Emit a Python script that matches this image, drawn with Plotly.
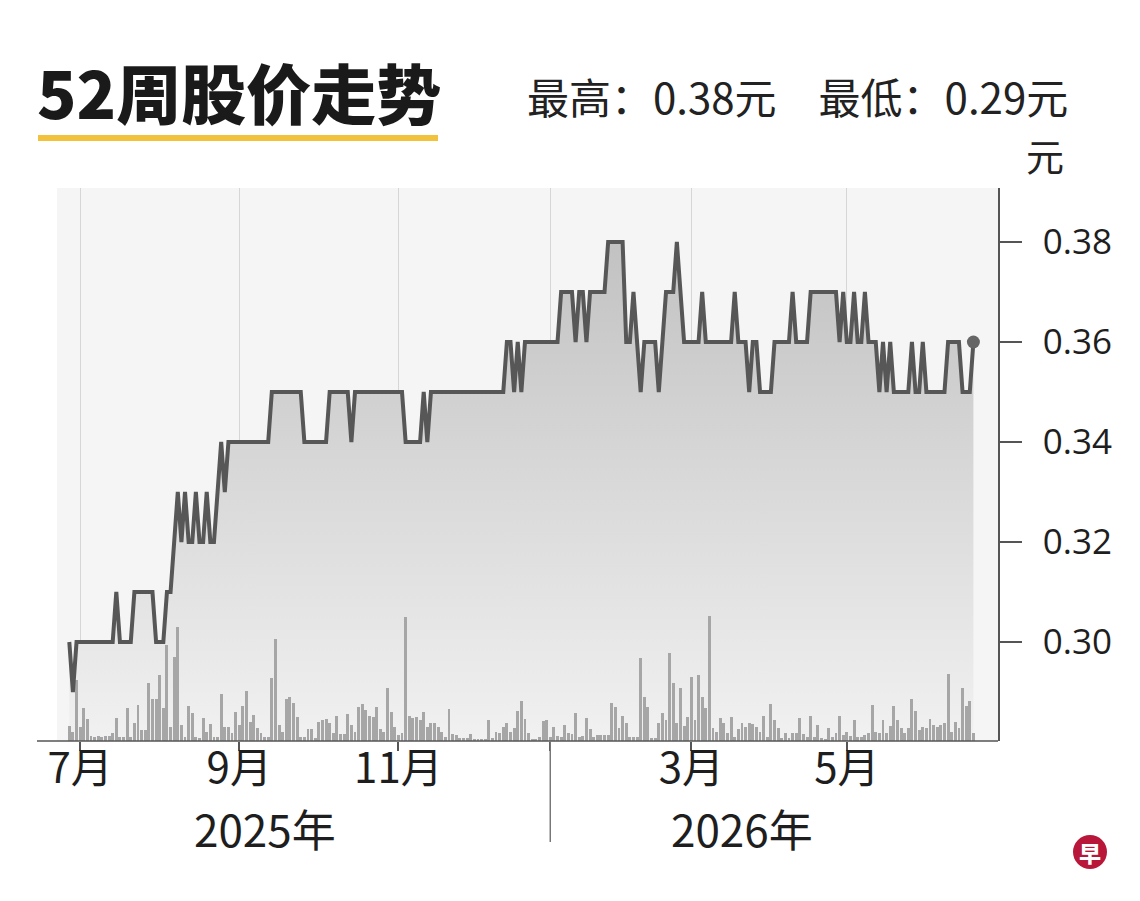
import pandas as pd
import plotly.graph_objects as go

# ---------------- data ----------------
START_DATE = "2025-06-26"
HOLIDAYS = ["2025-10-20", "2025-12-25", "2026-01-01", "2026-02-17", "2026-02-18",
            "2026-04-03", "2026-05-01", "2026-05-27", "2026-06-01"]

# daily closing price (元), one value per trading day
PRICES = [
    0.30, 0.29, 0.30, 0.30, 0.30, 0.30, 0.30, 0.30, 0.30, 0.30,
    0.30, 0.30, 0.30, 0.31, 0.30, 0.30, 0.30, 0.30, 0.31, 0.31,
    0.31, 0.31, 0.31, 0.31, 0.30, 0.30, 0.30, 0.31, 0.31, 0.32,
    0.33, 0.32, 0.33, 0.32, 0.32, 0.33, 0.32, 0.32, 0.33, 0.32,
    0.32, 0.33, 0.34, 0.33, 0.34, 0.34, 0.34, 0.34, 0.34, 0.34,
    0.34, 0.34, 0.34, 0.34, 0.34, 0.34, 0.35, 0.35, 0.35, 0.35,
    0.35, 0.35, 0.35, 0.35, 0.35, 0.34, 0.34, 0.34, 0.34, 0.34,
    0.34, 0.34, 0.35, 0.35, 0.35, 0.35, 0.35, 0.35, 0.34, 0.35,
    0.35, 0.35, 0.35, 0.35, 0.35, 0.35, 0.35, 0.35, 0.35, 0.35,
    0.35, 0.35, 0.35, 0.34, 0.34, 0.34, 0.34, 0.34, 0.35, 0.34,
    0.35, 0.35, 0.35, 0.35, 0.35, 0.35, 0.35, 0.35, 0.35, 0.35,
    0.35, 0.35, 0.35, 0.35, 0.35, 0.35, 0.35, 0.35, 0.35, 0.35,
    0.35, 0.36, 0.36, 0.35, 0.36, 0.35, 0.36, 0.36, 0.36, 0.36,
    0.36, 0.36, 0.36, 0.36, 0.36, 0.36, 0.37, 0.37, 0.37, 0.37,
    0.36, 0.37, 0.37, 0.36, 0.37, 0.37, 0.37, 0.37, 0.37, 0.38,
    0.38, 0.38, 0.38, 0.38, 0.36, 0.36, 0.37, 0.36, 0.35, 0.36,
    0.36, 0.36, 0.36, 0.35, 0.36, 0.37, 0.37, 0.37, 0.38, 0.37,
    0.36, 0.36, 0.36, 0.36, 0.36, 0.37, 0.36, 0.36, 0.36, 0.36,
    0.36, 0.36, 0.36, 0.36, 0.37, 0.36, 0.36, 0.36, 0.35, 0.36,
    0.36, 0.35, 0.35, 0.35, 0.35, 0.36, 0.36, 0.36, 0.36, 0.36,
    0.37, 0.36, 0.36, 0.36, 0.36, 0.37, 0.37, 0.37, 0.37, 0.37,
    0.37, 0.37, 0.37, 0.36, 0.37, 0.36, 0.36, 0.37, 0.36, 0.36,
    0.37, 0.36, 0.36, 0.36, 0.35, 0.36, 0.35, 0.36, 0.35, 0.35,
    0.35, 0.35, 0.35, 0.36, 0.35, 0.35, 0.36, 0.35, 0.35, 0.35,
    0.35, 0.35, 0.35, 0.36, 0.36, 0.36, 0.36, 0.35, 0.35, 0.35,
    0.36,
]

# daily trading volume (relative units, as drawn)
VOLUME = [
    15, 9, 61, 14, 33, 22, 5, 4, 5, 4,
    5, 5, 8, 23, 4, 4, 33, 4, 18, 36,
    11, 11, 58, 42, 42, 66, 33, 96, 14, 84,
    114, 16, 4, 35, 28, 4, 3, 23, 9, 17,
    4, 4, 47, 14, 14, 8, 29, 16, 35, 50,
    19, 26, 13, 8, 4, 4, 63, 102, 16, 9,
    42, 44, 38, 24, 4, 4, 12, 12, 3, 19,
    21, 22, 18, 8, 25, 7, 7, 27, 16, 9,
    34, 37, 31, 25, 24, 34, 12, 9, 53, 29,
    14, 6, 8, 124, 25, 23, 24, 21, 29, 14,
    18, 18, 14, 9, 4, 32, 7, 6, 3, 3,
    3, 7, 2, 2, 2, 2, 21, 3, 9, 8,
    14, 18, 9, 13, 30, 40, 22, 8, 2, 2,
    4, 20, 21, 4, 14, 5, 4, 16, 8, 7,
    28, 4, 5, 23, 12, 4, 6, 6, 6, 6,
    38, 34, 13, 25, 18, 4, 4, 4, 83, 44,
    34, 3, 3, 18, 28, 21, 88, 58, 18, 53,
    15, 24, 64, 21, 66, 44, 33, 125, 13, 9,
    23, 18, 8, 24, 4, 12, 18, 14, 18, 17,
    14, 9, 25, 4, 37, 21, 13, 3, 8, 3,
    8, 8, 23, 7, 4, 25, 4, 16, 3, 2,
    13, 4, 8, 25, 6, 9, 5, 21, 4, 4,
    6, 8, 36, 9, 8, 21, 8, 15, 35, 21,
    13, 8, 13, 42, 30, 11, 14, 13, 22, 16,
    14, 16, 18, 67, 9, 19, 13, 53, 35, 40,
    8,
]

TICK_DATES = ["2025-07-01", "2025-09-01", "2025-11-03", "2026-01-02", "2026-03-02", "2026-05-04"]
TICK_TEXT = ["7月", "9月", "11月", "", "3月", "5月"]
YEAR_LABELS = ["2025年", "2026年"]
Y_TICKS = [0.30, 0.32, 0.34, 0.36, 0.38]
TITLE = "52周股价走势"
UNIT = "元"

# trading-day calendar (categories)
DATES = [d.strftime("%Y-%m-%d") for d in
         pd.bdate_range(start=START_DATE, periods=len(PRICES), freq="C", holidays=HOLIDAYS)]

# ---------------- figure ----------------
CJK = "Noto Sans CJK SC"
INK = "#1e1e1e"
Y_RANGE = [0.2802, 0.3908]

# the page body has an 8px margin: the figure is drawn 8px smaller
OFF = 8
FIG_W, FIG_H = 1140 - OFF, 901 - OFF

fig = go.Figure()

# gradient area under price
fig.add_trace(go.Scatter(
    x=DATES, y=PRICES, mode="none", fill="tozeroy",
    fillgradient=dict(type="vertical",
                      colorscale=[[0, "#f1f1f1"], [1, "#c2c2c2"]],
                      start=Y_RANGE[0], stop=0.38),
    yaxis="y", hoverinfo="skip", showlegend=False))

# volume bars
fig.add_trace(go.Bar(
    x=DATES, y=VOLUME, yaxis="y2", marker=dict(color="#a6a6a6", line=dict(width=0)),
    width=0.8, showlegend=False, hoverinfo="skip"))

# price line
fig.add_trace(go.Scatter(
    x=DATES, y=PRICES, mode="lines", yaxis="y3",
    line=dict(color="#575757", width=4), showlegend=False))

# last-price dot
fig.add_trace(go.Scatter(
    x=[DATES[-1]], y=[PRICES[-1]], mode="markers", yaxis="y3",
    marker=dict(color="#666666", size=13), showlegend=False))

# plot area in page pixels
PLOT_T, PLOT_B = 188, 741
PLOT_H = PLOT_B - PLOT_T
PLOT_L, PLOT_R = 57, 998
PLOT_W = PLOT_R - PLOT_L


def px(xp):
    return (xp - PLOT_L) / PLOT_W


def py(yp):
    return (PLOT_B - yp) / PLOT_H


fig.update_layout(
    width=FIG_W, height=FIG_H,
    margin=dict(l=PLOT_L - OFF, r=1140 - PLOT_R, t=PLOT_T - OFF, b=901 - PLOT_B, autoexpand=False),
    paper_bgcolor="white", plot_bgcolor="#f5f5f5",
    font=dict(family=CJK, color=INK),
    bargap=0,
    xaxis=dict(
        type="category", range=[-3.4, 256.8],
        tickmode="array", tickvals=TICK_DATES, ticktext=TICK_TEXT,
        ticks="outside", ticklen=9, tickcolor="#555", tickwidth=1.5,
        ticklabelstandoff=-18,
        tickfont=dict(family=CJK, size=42, color=INK),
        showgrid=True, gridcolor="#d6d6d6", gridwidth=1,
        showline=False, zeroline=False, fixedrange=True),
    yaxis=dict(
        range=Y_RANGE, side="right",
        tickmode="array", tickvals=Y_TICKS, ticktext=[f"{v:.2f}" for v in Y_TICKS],
        ticks="outside", ticklen=22, tickcolor="#555", tickwidth=1.5,
        ticklabelstandoff=14,
        tickfont=dict(family="Open Sans", size=35, color=INK),
        showline=True, linecolor="#555", linewidth=1.5,
        showgrid=False, zeroline=False),
    yaxis2=dict(range=[0, PLOT_H], overlaying="y", visible=False),
    yaxis3=dict(range=Y_RANGE, overlaying="y", visible=False),
)

jan_idx = DATES.index(TICK_DATES[3])

shapes = [
    # bottom axis line
    dict(type="line", xref="paper", yref="paper", x0=px(37), x1=1, y0=0, y1=0,
         line=dict(color="#555", width=1.5)),
    # year divider
    dict(type="line", xref="x", yref="paper", x0=jan_idx, x1=jan_idx, y0=0, y1=py(842),
         line=dict(color="#777", width=1.5)),
    # yellow underline of title
    dict(type="rect", xref="paper", yref="paper", x0=px(38), x1=px(438), y0=py(141), y1=py(135),
         fillcolor="#f3c23c", line=dict(width=0)),
    # logo circle
    dict(type="circle", xref="paper", yref="paper", x0=px(1073), x1=px(1107), y0=py(869), y1=py(835),
         fillcolor="#b8173a", line=dict(width=0)),
]
fig.update_layout(shapes=shapes)

hi, lo = max(PRICES), min(PRICES)
annotations = [
    dict(text=TITLE, xref="paper", yref="paper", x=px(35), y=py(91), xanchor="left", yanchor="middle",
         showarrow=False, font=dict(family=CJK, size=65, weight=900, color="#1a1a1a")),
    dict(text=f"最高：{hi:.2f}{UNIT}\u3000最低：{lo:.2f}{UNIT}", xref="paper", yref="paper",
         x=px(1070), y=py(96), xanchor="right", yanchor="middle", showarrow=False,
         font=dict(family=CJK, size=42, color="#222")),
    dict(text=UNIT, xref="paper", yref="paper", x=px(1045), y=py(155), xanchor="center", yanchor="middle",
         showarrow=False, font=dict(family=CJK, size=38, color="#222")),
    dict(text=YEAR_LABELS[0], xref="paper", yref="paper", x=px(265), y=py(828), xanchor="center",
         yanchor="middle", showarrow=False, font=dict(family=CJK, size=44, color=INK)),
    dict(text=YEAR_LABELS[1], xref="paper", yref="paper", x=px(742), y=py(828), xanchor="center",
         yanchor="middle", showarrow=False, font=dict(family=CJK, size=44, color=INK)),
    dict(text="早", xref="paper", yref="paper", x=px(1090), y=py(852), xanchor="center", yanchor="middle",
         showarrow=False, font=dict(family=CJK, size=22, weight=900, color="white")),
]
fig.update_layout(annotations=annotations)

fig.write_html("out.html")
